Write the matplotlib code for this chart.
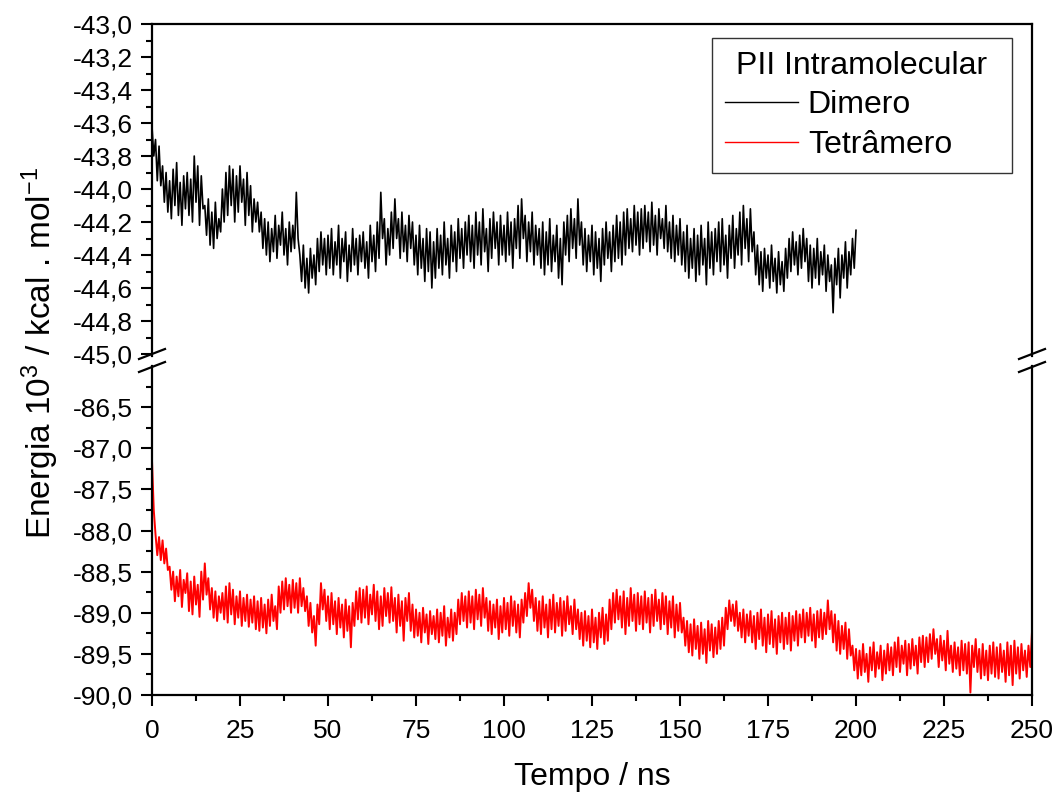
import matplotlib
matplotlib.use("Agg")
import matplotlib.pyplot as plt
import numpy as np
from matplotlib.ticker import MultipleLocator, FuncFormatter, FixedLocator
from matplotlib.lines import Line2D

plt.rcParams['font.family'] = ['Liberation Sans', 'DejaVu Sans']
plt.rcParams['mathtext.fontset'] = 'custom'
plt.rcParams['mathtext.rm'] = 'Liberation Sans'
plt.rcParams['mathtext.it'] = 'Liberation Sans:italic'

# Energy (10^3 kcal/mol), sampled every 0.5 ns
step_ns = 0.5
dimero = [
    -43.62, -43.80, -43.70, -43.95, -43.74, -43.98, -43.86, -44.08, -43.90, -44.14, -43.95, -44.18, -43.88, -44.10, -43.84, -44.16, -43.96, -44.22, -43.92, -44.12,
    -43.90, -44.16, -43.94, -44.20, -43.80, -44.08, -43.86, -44.22, -43.92, -44.12, -44.10, -44.28, -44.06, -44.34, -44.14, -44.36, -44.08, -44.30, -44.18, -44.26,
    -44.00, -44.20, -43.90, -44.16, -43.86, -44.10, -43.88, -44.20, -43.92, -44.14, -43.86, -44.08, -43.94, -44.22, -43.90, -44.16, -43.98, -44.26, -44.06, -44.20,
    -44.08, -44.26, -44.14, -44.36, -44.18, -44.40, -44.20, -44.44, -44.24, -44.38, -44.16, -44.42, -44.22, -44.34, -44.14, -44.40, -44.24, -44.46, -44.20, -44.38,
    -44.22, -44.36, -44.02, -44.30, -44.40, -44.56, -44.34, -44.60, -44.42, -44.63, -44.36, -44.54, -44.40, -44.58, -44.30, -44.50, -44.26, -44.46, -44.30, -44.52,
    -44.28, -44.48, -44.24, -44.52, -44.32, -44.46, -44.22, -44.54, -44.30, -44.44, -44.26, -44.56, -44.34, -44.50, -44.24, -44.46, -44.30, -44.52, -44.28, -44.44,
    -44.26, -44.48, -44.32, -44.54, -44.22, -44.44, -44.28, -44.50, -44.20, -44.42, -44.02, -44.30, -44.18, -44.46, -44.24, -44.40, -44.14, -44.36, -44.06, -44.30,
    -44.18, -44.42, -44.14, -44.38, -44.22, -44.44, -44.16, -44.36, -44.20, -44.46, -44.28, -44.52, -44.22, -44.48, -44.30, -44.56, -44.24, -44.50, -44.26, -44.60,
    -44.32, -44.54, -44.24, -44.48, -44.28, -44.52, -44.20, -44.46, -44.30, -44.54, -44.22, -44.44, -44.26, -44.50, -44.18, -44.42, -44.24, -44.48, -44.20, -44.40,
    -44.16, -44.44, -44.22, -44.48, -44.14, -44.40, -44.20, -44.46, -44.12, -44.38, -44.24, -44.50, -44.18, -44.42, -44.14, -44.36, -44.20, -44.46, -44.16, -44.40,
    -44.22, -44.44, -44.14, -44.40, -44.20, -44.48, -44.18, -44.36, -44.10, -44.42, -44.06, -44.30, -44.16, -44.44, -44.20, -44.38, -44.14, -44.46, -44.22, -44.40,
    -44.24, -44.48, -44.20, -44.52, -44.26, -44.46, -44.18, -44.50, -44.28, -44.44, -44.22, -44.54, -44.30, -44.58, -44.20, -44.40, -44.16, -44.44, -44.12, -44.36,
    -44.18, -44.42, -44.06, -44.34, -44.20, -44.46, -44.24, -44.50, -44.28, -44.44, -44.22, -44.52, -44.26, -44.48, -44.30, -44.56, -44.24, -44.46, -44.20, -44.42,
    -44.26, -44.50, -44.22, -44.44, -44.16, -44.42, -44.20, -44.46, -44.14, -44.40, -44.12, -44.36, -44.18, -44.38, -44.10, -44.34, -44.14, -44.40, -44.12, -44.36,
    -44.10, -44.32, -44.14, -44.38, -44.08, -44.34, -44.16, -44.40, -44.12, -44.30, -44.18, -44.36, -44.10, -44.38, -44.20, -44.42, -44.16, -44.44, -44.22, -44.40,
    -44.18, -44.46, -44.26, -44.50, -44.22, -44.54, -44.30, -44.48, -44.24, -44.56, -44.28, -44.52, -44.22, -44.46, -44.30, -44.58, -44.20, -44.48, -44.26, -44.52,
    -44.24, -44.44, -44.20, -44.50, -44.18, -44.46, -44.28, -44.54, -44.22, -44.42, -44.16, -44.48, -44.24, -44.40, -44.14, -44.46, -44.10, -44.36, -44.18, -44.44,
    -44.12, -44.38, -44.26, -44.52, -44.34, -44.58, -44.38, -44.62, -44.36, -44.54, -44.40, -44.60, -44.34, -44.56, -44.42, -44.63, -44.38, -44.58, -44.44, -44.62,
    -44.36, -44.54, -44.30, -44.50, -44.26, -44.46, -44.32, -44.52, -44.28, -44.48, -44.24, -44.44, -44.30, -44.56, -44.34, -44.60, -44.36, -44.54, -44.30, -44.58,
    -44.38, -44.52, -44.34, -44.62, -44.40, -44.56, -44.46, -44.75, -44.42, -44.58, -44.36, -44.66, -44.40, -44.54, -44.32, -44.60, -44.38, -44.52, -44.30, -44.48,
    -44.25,
]
tetramero = [
    -87.15, -87.75, -88.05, -88.30, -88.08, -88.36, -88.12, -88.40, -88.22, -88.48, -88.44, -88.72, -88.50, -88.86, -88.56, -88.80, -88.48, -88.93, -88.60, -88.76,
    -88.52, -88.98, -88.62, -89.02, -88.56, -88.90, -88.66, -89.05, -88.50, -88.84, -88.40, -88.78, -88.58, -88.96, -88.70, -89.06, -88.74, -89.10, -88.80, -89.00,
    -88.76, -89.08, -88.68, -89.12, -88.64, -89.02, -88.72, -89.14, -88.80, -89.06, -88.74, -89.16, -88.82, -89.10, -88.78, -89.17, -88.84, -89.12, -88.80, -89.20,
    -88.86, -89.22, -88.82, -89.18, -88.90, -89.25, -88.84, -89.16, -88.78, -89.10, -88.92, -89.20, -88.68, -89.00, -88.62, -88.96, -88.58, -88.92, -88.66, -89.00,
    -88.60, -88.94, -88.64, -89.00, -88.58, -88.92, -88.70, -88.98, -88.80, -89.16, -88.88, -89.24, -89.04, -89.40, -88.90, -89.14, -88.64, -88.96, -88.72, -89.10,
    -88.80, -89.20, -88.76, -89.14, -88.86, -89.26, -88.82, -89.18, -88.90, -89.30, -88.84, -89.22, -88.92, -89.42, -88.88, -89.16, -88.74, -89.08, -88.70, -89.12,
    -88.72, -89.06, -88.68, -89.14, -88.78, -89.02, -88.66, -89.10, -88.74, -89.20, -88.80, -89.16, -88.70, -89.04, -88.76, -89.12, -88.69, -89.10, -88.82, -89.24,
    -88.78, -89.16, -88.86, -89.34, -88.82, -89.10, -88.76, -89.22, -88.90, -89.30, -88.96, -89.28, -89.00, -89.36, -88.94, -89.24, -89.02, -89.38, -88.98, -89.26,
    -89.04, -89.32, -88.96, -89.36, -89.00, -89.28, -88.92, -89.40, -89.06, -89.30, -88.96, -89.34, -89.00, -89.26, -88.84, -89.14, -88.76, -89.10, -88.80, -89.18,
    -88.74, -89.12, -88.80, -89.20, -88.72, -89.08, -88.78, -89.16, -88.70, -89.06, -88.82, -89.22, -88.86, -89.26, -88.90, -89.18, -88.84, -89.32, -88.92, -89.24,
    -88.82, -89.20, -88.88, -89.28, -88.80, -89.16, -88.86, -89.24, -88.90, -89.30, -88.84, -89.12, -88.76, -89.04, -88.64, -88.94, -88.72, -89.10, -88.82, -89.22,
    -88.86, -89.26, -88.80, -89.18, -88.90, -89.30, -88.84, -89.20, -88.78, -89.24, -88.88, -89.16, -88.82, -89.28, -88.86, -89.22, -88.80, -89.14, -88.92, -89.26,
    -88.84, -89.20, -88.96, -89.32, -89.00, -89.40, -88.98, -89.34, -89.04, -89.42, -88.96, -89.36, -89.06, -89.44, -89.00, -89.30, -88.94, -89.38, -89.02, -89.34,
    -88.84, -89.20, -88.76, -89.12, -88.72, -89.08, -88.80, -89.18, -88.74, -89.26, -88.82, -89.16, -88.70, -89.10, -88.78, -89.22, -88.76, -89.14, -88.80, -89.20,
    -88.74, -89.12, -88.82, -89.24, -88.78, -89.16, -88.72, -89.10, -88.84, -89.20, -88.76, -89.14, -88.80, -89.26, -88.86, -89.18, -88.80, -89.30, -88.90, -89.22,
    -88.88, -89.24, -89.06, -89.40, -89.10, -89.48, -89.14, -89.52, -89.08, -89.44, -89.16, -89.56, -89.12, -89.50, -89.20, -89.61, -89.10, -89.46, -89.14, -89.54,
    -89.18, -89.50, -89.10, -89.44, -89.06, -89.40, -88.94, -89.20, -88.85, -89.10, -88.90, -89.16, -88.86, -89.22, -89.00, -89.30, -88.96, -89.36, -89.02, -89.28,
    -88.98, -89.36, -89.04, -89.44, -89.00, -89.32, -88.96, -89.40, -89.06, -89.48, -89.02, -89.38, -88.98, -89.42, -89.08, -89.50, -89.04, -89.36, -89.00, -89.44,
    -89.06, -89.38, -89.00, -89.46, -89.04, -89.34, -88.98, -89.40, -89.02, -89.30, -88.96, -89.36, -89.00, -89.28, -88.94, -89.34, -89.02, -89.42, -88.98, -89.30,
    -88.96, -89.32, -89.00, -89.26, -88.85, -89.20, -88.98, -89.36, -89.02, -89.46, -89.10, -89.50, -89.16, -89.44, -89.12, -89.56, -89.20, -89.52, -89.40, -89.70,
    -89.44, -89.80, -89.46, -89.76, -89.38, -89.72, -89.50, -89.84, -89.42, -89.70, -89.36, -89.78, -89.48, -89.68, -89.40, -89.82, -89.46, -89.74, -89.38, -89.70,
    -89.42, -89.76, -89.36, -89.66, -89.30, -89.72, -89.40, -89.62, -89.34, -89.76, -89.38, -89.68, -89.32, -89.64, -89.40, -89.74, -89.30, -89.60, -89.28, -89.66,
    -89.30, -89.60, -89.26, -89.56, -89.20, -89.50, -89.32, -89.66, -89.28, -89.58, -89.34, -89.70, -89.22, -89.62, -89.40, -89.72, -89.36, -89.68, -89.42, -89.76,
    -89.34, -89.70, -89.38, -89.74, -89.36, -89.97, -89.40, -89.66, -89.32, -89.72, -89.44, -89.80, -89.38, -89.76, -89.46, -89.82, -89.40, -89.74, -89.36, -89.78,
    -89.42, -89.80, -89.38, -89.72, -89.46, -89.84, -89.36, -89.76, -89.40, -89.88, -89.34, -89.74, -89.42, -89.80, -89.38, -89.70, -89.46, -89.78, -89.40, -89.66,
    -89.23,
]
t_dimero = np.arange(len(dimero)) * step_ns
t_tetramero = np.arange(len(tetramero)) * step_ns

x_ticks = [0, 25, 50, 75, 100, 125, 150, 175, 200, 225, 250]
top_ticks = [-45.0, -44.8, -44.6, -44.4, -44.2, -44.0, -43.8, -43.6, -43.4, -43.2, -43.0]
bottom_ticks = [-90.0, -89.5, -89.0, -88.5, -88.0, -87.5, -87.0, -86.5]

W, H = 1057, 798
fig = plt.figure(figsize=(W / 100, H / 100), dpi=100)

def fx(px):
    return px / W

def fy(py):
    return 1 - py / H

left, right = 152, 1032
ax_top = fig.add_axes([fx(left), fy(356), fx(right - left), (356 - 24) / H])
ax_bot = fig.add_axes([fx(left), fy(695), fx(right - left), (695 - 366) / H])

ax_top.plot(t_dimero, dimero, color='black', linewidth=1.2, label='Dimero')
ax_bot.plot(t_tetramero, tetramero, color='red', linewidth=1.4, label='Tetrâmero')

comma = FuncFormatter(lambda v, p: f"{v:.1f}".replace('.', ','))

for ax in (ax_top, ax_bot):
    ax.set_xlim(0, 250)
    ax.xaxis.set_major_locator(FixedLocator(x_ticks))
    ax.xaxis.set_minor_locator(MultipleLocator(12.5))
    ax.yaxis.set_major_formatter(comma)
    ax.tick_params(which='both', direction='out', width=1.5, labelsize=19, pad=6,
                   right=False, top=False)
    ax.tick_params(axis='x', pad=9)
    ax.tick_params(which='major', length=8)
    ax.tick_params(which='minor', length=4)
    for s in ax.spines.values():
        s.set_linewidth(1.6)

ax_top.set_ylim(-45.012, -43.0)
ax_top.yaxis.set_major_locator(FixedLocator(top_ticks))
ax_top.yaxis.set_minor_locator(MultipleLocator(0.1))
ax_top.spines['bottom'].set_visible(False)
ax_top.tick_params(axis='x', which='both', bottom=False, labelbottom=False)

ax_bot.set_ylim(-90.0, -86.0)
ax_bot.yaxis.set_major_locator(FixedLocator(bottom_ticks))
ax_bot.yaxis.set_minor_locator(FixedLocator(np.arange(-89.75, -86.2, 0.5)))
ax_bot.spines['top'].set_visible(False)
ax_bot.set_xlabel('Tempo / ns', fontsize=23, labelpad=14)

# axis break marks
for xs in (left, right):
    for y0 in (359, 372):
        fig.add_artist(Line2D([fx(xs - 13), fx(xs + 13)], [fy(y0), fy(y0 - 10)],
                              color='black', linewidth=1.6))

fig.text(fx(40), fy(353), r'Energia 10$^3$ / kcal . mol$^{-1}$', rotation=90,
         ha='center', va='center', fontsize=24)

handles = [Line2D([], [], color='black', linewidth=1.0),
           Line2D([], [], color='red', linewidth=1.0)]
leg = ax_top.legend(handles, ['Dimero', 'Tetrâmero'], title='PII Intramolecular',
                    loc='upper left', mode='expand',
                    bbox_to_anchor=(fx(712), fy(167), 300 / W, 129 / H),
                    bbox_transform=fig.transFigure, borderaxespad=0,
                    fontsize=23, title_fontsize=23, fancybox=False,
                    edgecolor='#333333', framealpha=1, handlelength=2.3,
                    handletextpad=0.3, labelspacing=0.3, borderpad=0.4)
leg.get_frame().set_linewidth(1.0)

fig.savefig('out.png', dpi=100)
